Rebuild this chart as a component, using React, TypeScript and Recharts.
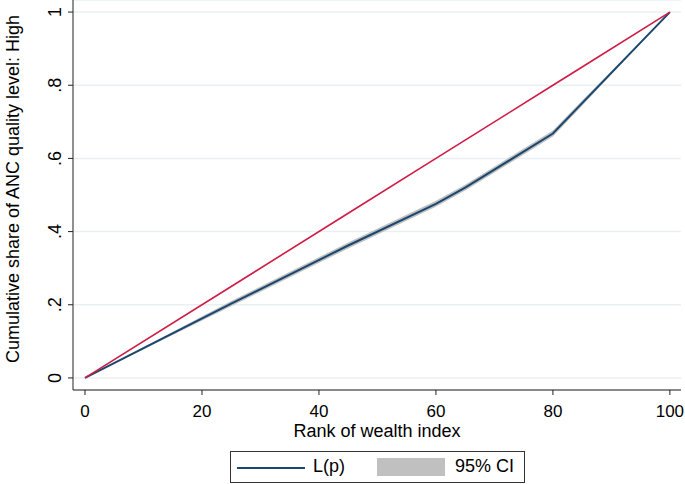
import { ComposedChart, Line, Area, XAxis, YAxis, CartesianGrid } from "recharts";

const rank = [0, 25, 45, 60, 65, 80, 85, 100];
const lp = [0, 0.203, 0.362, 0.476, 0.52, 0.668, 0.751, 1];
const ciLow = [0, 0.196, 0.354, 0.468, 0.512, 0.66, 0.744, 1];
const ciHigh = [0, 0.21, 0.37, 0.484, 0.528, 0.676, 0.758, 1];
const equality = [0, 0.25, 0.45, 0.6, 0.65, 0.8, 0.85, 1];
const xTicks = [0, 20, 40, 60, 80, 100];
const yTicks = [0, 0.2, 0.4, 0.6, 0.8, 1];
const yTickLabels = ["0", ".2", ".4", ".6", ".8", "1"];

const data = rank.map((p, i) => ({
  p,
  lp: lp[i],
  ci: [ciLow[i], ciHigh[i]],
  eq: equality[i],
}));

const font = "Arial, 'Liberation Sans', sans-serif";
const navy = "#1a476f";
const red = "#d01c45";

const YTick = ({ x, y, payload }: any) => {
  const i = yTicks.indexOf(payload.value);
  const tx = x - 5;
  return (
    <text x={tx} y={y} transform={`rotate(-90 ${tx} ${y})`} textAnchor="middle" fontSize={18} fontFamily={font} fill="#000">
      {yTickLabels[i]}
    </text>
  );
};

const XTick = ({ x, y, payload }: any) => (
  <text x={x} y={y + 20} textAnchor="middle" fontSize={17} fontFamily={font} fill="#000">
    {payload.value}
  </text>
);

const YTitle = () => (
  <text x={19} y={189} transform="rotate(-90 19 189)" textAnchor="middle" fontSize={18} fontFamily={font} fill="#000">
    Cumulative share of ANC quality level: High
  </text>
);

const XTitle = () => (
  <text x={377} y={437} textAnchor="middle" fontSize={18} fontFamily={font} fill="#000">
    Rank of wealth index
  </text>
);

function LegendBox() {
  return (
    <div
      style={{
        position: "absolute",
        left: 230,
        top: 451,
        width: 293,
        height: 30,
        border: "1px solid #333",
        fontFamily: font,
        fontSize: 18,
        background: "#fff",
      }}
    >
      <div style={{ position: "absolute", left: 6, top: 15, width: 68, height: 2, background: navy }} />
      <span style={{ position: "absolute", left: 82, top: 4 }}>L(p)</span>
      <div style={{ position: "absolute", left: 146, top: 6, width: 68, height: 18, background: "#c0c0c0" }} />
      <span style={{ position: "absolute", left: 224, top: 4 }}>95% CI</span>
    </div>
  );
}

export default function App() {
  return (
    <div style={{ position: "absolute", left: 0, top: 0, width: 685, height: 484, background: "#fff" }}>
      <ComposedChart width={685} height={484} data={data} margin={{ top: 0, right: 4, bottom: 64, left: 0 }}>
        <CartesianGrid horizontal vertical={false} stroke="#e8f0f2" strokeWidth={1.5} />
        <XAxis
          dataKey="p"
          type="number"
          domain={[-2.05, 101.9]}
          ticks={xTicks}
          tick={<XTick />}
          tickSize={5}
          height={30}
          stroke="#222"
          interval={0}
          allowDataOverflow
          label={<XTitle />}
        />
        <YAxis
          type="number"
          domain={[-0.033, 1.033]}
          ticks={yTicks}
          tick={<YTick />}
          tickSize={5}
          width={73}
          stroke="#222"
          interval={0}
          allowDataOverflow
          label={<YTitle />}
        />
        <Area dataKey="ci" stroke="none" fill="#c0c0c0" fillOpacity={1} isAnimationActive={false} />
        <Line dataKey="lp" stroke={navy} strokeWidth={2} dot={false} isAnimationActive={false} />
        <Line dataKey="eq" stroke={red} strokeWidth={1.6} dot={false} isAnimationActive={false} />
      </ComposedChart>
      <LegendBox />
    </div>
  );
}
